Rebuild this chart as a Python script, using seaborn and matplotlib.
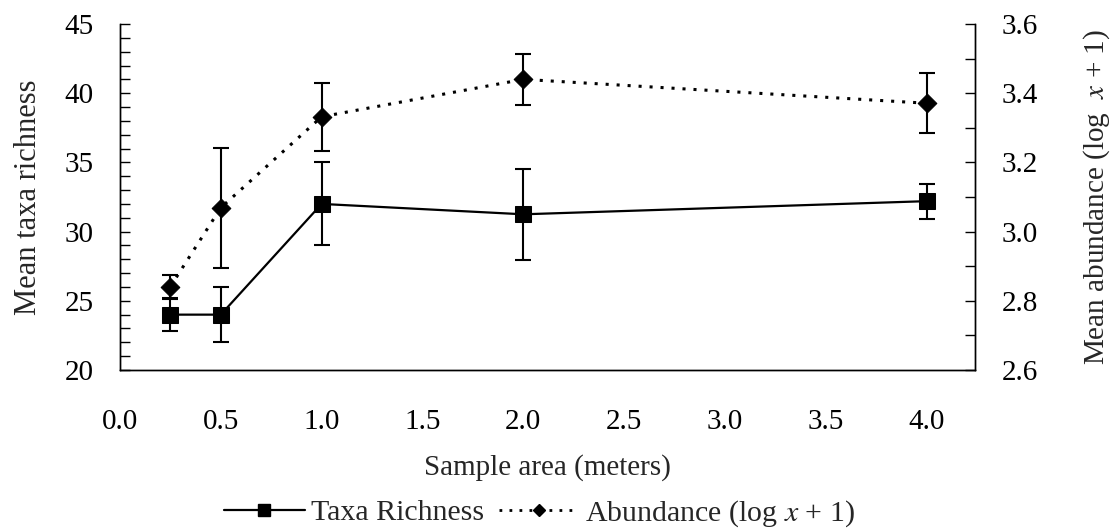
import numpy as np
import pandas as pd
import seaborn as sns
import matplotlib
matplotlib.use("Agg")
import matplotlib.pyplot as plt
from matplotlib.ticker import MultipleLocator
from matplotlib.lines import Line2D

# Data
area = [0.25, 0.5, 1.0, 2.0, 4.0]
taxa_mean = [24.0, 24.0, 32.0, 31.25, 32.2]
taxa_err = [1.15, 2.0, 3.0, 3.27, 1.27]
abund_mean = [2.841, 3.069, 3.332, 3.440, 3.371]
abund_err = [0.034, 0.173, 0.098, 0.074, 0.086]
x_ticks = [0.0, 0.5, 1.0, 1.5, 2.0, 2.5, 3.0, 3.5, 4.0]

sns.set_theme(style="white")
plt.rcParams['font.family'] = ['Liberation Serif', 'DejaVu Serif']
plt.rcParams['mathtext.fontset'] = 'stix'
FS = 21

df = pd.DataFrame({"area": area, "taxa": taxa_mean, "abund": abund_mean})

fig = plt.figure(figsize=(11.17, 5.31), dpi=100)
ax = fig.add_axes([0.1074, 0.3032, 0.873 - 0.1074, 0.9548 - 0.3032])
ax2 = ax.twinx()

sns.lineplot(data=df, x="area", y="taxa", ax=ax, color="black", lw=1.6,
             marker="s", markersize=11, markeredgecolor="black", legend=False)
ax.errorbar(area, taxa_mean, yerr=taxa_err, fmt="none", ecolor="black",
            elinewidth=1.5, capsize=5.5, capthick=1.5)

sns.lineplot(data=df, x="area", y="abund", ax=ax2, color="black", lw=2.2,
             linestyle=(0, (1, 2.6)), legend=False)
sns.scatterplot(data=df, x="area", y="abund", ax=ax2, color="black",
                marker="D", s=90, edgecolor="black", legend=False, zorder=5)
ax2.errorbar(area, abund_mean, yerr=abund_err, fmt="none", ecolor="black",
             elinewidth=1.5, capsize=5.5, capthick=1.5)

ax.set_xlim(0.0, 4.24)
ax.set_ylim(20, 45)
ax2.set_ylim(2.6, 3.6)
ax.set_xticks(x_ticks)
ax.set_xticklabels([f"{t:.1f}" for t in x_ticks])
ax.yaxis.set_major_locator(MultipleLocator(5))
ax.yaxis.set_minor_locator(MultipleLocator(1))
ax2.yaxis.set_major_locator(MultipleLocator(0.2))
ax2.yaxis.set_minor_locator(MultipleLocator(0.1))
ax2.set_yticks([2.6, 2.8, 3.0, 3.2, 3.4, 3.6])
ax2.set_yticklabels(["2.6", "2.8", "3.0", "3.2", "3.4", "3.6"])

for a in (ax, ax2):
    a.spines['top'].set_visible(False)
    for s in a.spines.values():
        s.set_color("black")
        s.set_linewidth(1.0)
    a.tick_params(which="both", direction="in", length=7, width=1.0,
                  colors="black", labelsize=FS)

ax.tick_params(axis="x", pad=28)
ax.tick_params(axis="y", which="both", pad=19, left=True, right=False)
ax2.tick_params(axis="y", which="both", pad=19, right=True, left=False)
ax2.set_xlim(0.0, 4.24)

ax.set_xlabel("Sample area (meters)", fontsize=FS, labelpad=14)
ax.set_ylabel("Mean taxa richness", fontsize=FS + 1, labelpad=15)
ax2.set_ylabel(r"Mean abundance (log  $x$ + 1)", fontsize=FS, labelpad=31)

h1 = Line2D([], [], color="black", lw=1.6, marker="s", markersize=9)
h2 = Line2D([], [], color="black", lw=2.0, linestyle=(0, (1, 2.6)),
            marker="D", markersize=6.5)
fig.legend([h1, h2], ["Taxa Richness", r"Abundance (log $x$ + 1)"],
           loc="center", bbox_to_anchor=(0.483, 0.033), ncol=2, frameon=False,
           fontsize=FS + 0.5, handlelength=2.7, handletextpad=0.2, columnspacing=0.5)

fig.savefig("out.png", dpi=100)
